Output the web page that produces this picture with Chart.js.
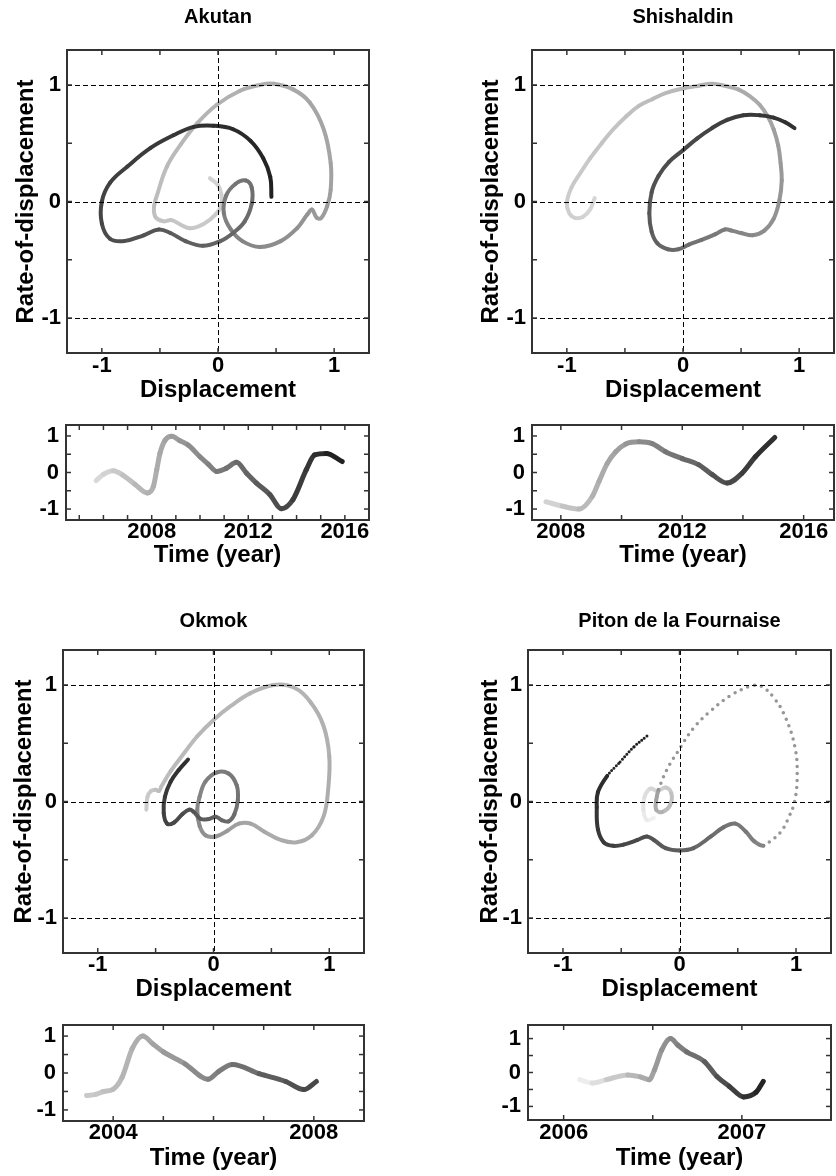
<!DOCTYPE html>
<html><head><meta charset="utf-8">
<script src="https://cdn.jsdelivr.net/npm/chart.js@4.4.1/dist/chart.umd.min.js"></script>
<style>
html,body{margin:0;padding:0;background:#fff}
body{position:relative;width:836px;height:1176px;overflow:hidden}
canvas{position:absolute;display:block}
</style></head><body>
<canvas id="akPhase"></canvas><canvas id="shPhase"></canvas>
<canvas id="akSeries"></canvas><canvas id="shSeries"></canvas>
<canvas id="okPhase"></canvas><canvas id="ptPhase"></canvas>
<canvas id="okSeries"></canvas><canvas id="ptSeries"></canvas>
<script>
// ---------------- DATA ----------------
// Phase portraits: normalized displacement (x) vs rate-of-displacement (y), in time order
const akutanDisp = [-0.07,0.00,0.03,0.03,-0.02,-0.12,-0.24,-0.32,-0.40,-0.47,-0.54,-0.55,-0.52,-0.44,-0.32,-0.18,-0.01,0.19,0.36,0.48,0.65,0.79,0.91,0.97,0.97,0.94,0.89,0.85,0.81,0.77,0.68,0.54,0.36,0.21,0.11,0.05,0.07,0.15,0.24,0.29,0.29,0.23,0.13,0.02,-0.13,-0.28,-0.41,-0.51,-0.64,-0.81,-0.93,-1.00,-1.00,-0.93,-0.78,-0.58,-0.38,-0.21,-0.04,0.13,0.28,0.39,0.45,0.46];
const akutanRate = [0.20,0.14,0.06,-0.03,-0.11,-0.19,-0.23,-0.20,-0.16,-0.17,-0.13,-0.04,0.07,0.30,0.49,0.67,0.83,0.95,1.00,1.01,0.96,0.85,0.62,0.33,0.10,-0.04,-0.14,-0.14,-0.07,-0.11,-0.23,-0.34,-0.39,-0.34,-0.24,-0.10,0.05,0.15,0.18,0.12,-0.02,-0.17,-0.27,-0.34,-0.38,-0.34,-0.27,-0.24,-0.29,-0.34,-0.32,-0.19,0.00,0.16,0.30,0.46,0.57,0.64,0.65,0.62,0.52,0.37,0.21,0.04];

const shishaldinDisp = [-0.76,-0.80,-0.86,-0.93,-0.98,-1.00,-0.96,-0.88,-0.80,-0.70,-0.60,-0.49,-0.38,-0.26,-0.15,0.00,0.12,0.25,0.37,0.48,0.58,0.66,0.73,0.78,0.82,0.84,0.85,0.83,0.78,0.70,0.60,0.50,0.42,0.36,0.28,0.16,0.05,-0.04,-0.13,-0.22,-0.27,-0.29,-0.27,-0.21,-0.12,0.00,0.12,0.25,0.38,0.52,0.66,0.78,0.88,0.96];
const shishaldinRate = [0.03,-0.07,-0.13,-0.14,-0.10,-0.01,0.12,0.25,0.37,0.50,0.62,0.73,0.82,0.88,0.93,0.97,0.99,1.01,0.99,0.96,0.90,0.83,0.73,0.62,0.48,0.33,0.18,0.01,-0.15,-0.25,-0.29,-0.27,-0.25,-0.24,-0.28,-0.33,-0.37,-0.41,-0.41,-0.36,-0.26,-0.10,0.08,0.22,0.34,0.44,0.54,0.63,0.70,0.74,0.74,0.72,0.68,0.63];

const okmokDisp = [-0.58,-0.57,-0.54,-0.50,-0.47,-0.45,-0.37,-0.25,-0.14,0.00,0.15,0.32,0.52,0.69,0.84,0.95,1.00,0.99,0.95,0.85,0.72,0.58,0.44,0.32,0.22,0.12,0.02,-0.07,-0.12,-0.14,-0.12,-0.07,0.03,0.13,0.20,0.21,0.18,0.13,0.07,0.02,-0.04,-0.11,-0.17,-0.21,-0.27,-0.34,-0.40,-0.43,-0.42,-0.37,-0.30,-0.22];
const okmokRate = [-0.07,0.04,0.09,0.10,0.09,0.13,0.26,0.42,0.56,0.70,0.82,0.93,1.00,0.98,0.85,0.65,0.39,0.10,-0.13,-0.29,-0.35,-0.33,-0.26,-0.19,-0.19,-0.25,-0.30,-0.29,-0.21,-0.07,0.04,0.17,0.25,0.24,0.14,0.01,-0.11,-0.17,-0.16,-0.13,-0.15,-0.15,-0.09,-0.07,-0.11,-0.18,-0.19,-0.10,0.04,0.17,0.27,0.36];

const pitonDisp = [-0.22,-0.28,-0.31,-0.30,-0.25,-0.19,-0.12,-0.07,-0.08,-0.15,-0.20,-0.20,-0.18,-0.11,-0.02,0.12,0.27,0.44,0.61,0.70,0.81,0.91,0.99,1.01,0.99,0.94,0.87,0.78,0.72,0.64,0.57,0.48,0.38,0.27,0.12,0.00,-0.12,-0.22,-0.28,-0.36,-0.48,-0.57,-0.65,-0.70,-0.71,-0.70,-0.62,-0.51,-0.39,-0.27];
const pitonRate = [-0.14,-0.16,-0.07,0.04,0.11,0.09,0.12,0.07,-0.03,-0.09,-0.07,0.01,0.10,0.27,0.42,0.63,0.78,0.91,0.99,0.99,0.89,0.72,0.47,0.24,0.01,-0.13,-0.26,-0.34,-0.38,-0.34,-0.26,-0.19,-0.22,-0.30,-0.40,-0.42,-0.40,-0.33,-0.30,-0.33,-0.37,-0.38,-0.35,-0.24,-0.05,0.08,0.22,0.34,0.47,0.57];

// Time series: year vs normalized displacement
const akutanYears = [2005.70,2006.00,2006.41,2006.80,2007.30,2007.82,2008.07,2008.21,2008.34,2008.55,2008.83,2009.17,2009.51,2010.00,2010.35,2010.69,2011.10,2011.51,2011.93,2012.34,2012.89,2013.37,2013.85,2014.40,2014.75,2015.23,2015.89];
const akutanSeries = [-0.22,-0.05,0.05,-0.07,-0.32,-0.56,-0.38,0.08,0.52,0.88,0.99,0.87,0.75,0.43,0.22,0.03,0.12,0.28,-0.02,-0.29,-0.60,-0.99,-0.74,0.07,0.48,0.52,0.30];

const shishaldinYears = [2007.51,2008.05,2008.60,2009.04,2009.26,2009.53,2009.81,2010.14,2010.58,2011.01,2011.45,2012.00,2012.55,2012.99,2013.48,2013.97,2014.41,2015.05];
const shishaldinSeries = [-0.80,-0.92,-1.00,-0.65,-0.24,0.25,0.57,0.78,0.84,0.79,0.57,0.38,0.21,-0.06,-0.29,-0.02,0.43,0.96];

const okmokYears = [2003.47,2003.65,2003.81,2004.00,2004.18,2004.38,2004.59,2004.80,2005.00,2005.43,2005.89,2006.10,2006.38,2006.91,2007.44,2007.80,2008.05];
const okmokSeries = [-0.61,-0.58,-0.50,-0.44,-0.11,0.66,1.00,0.78,0.57,0.25,-0.17,0.04,0.23,-0.02,-0.23,-0.45,-0.23];

const pitonYears = [2006.09,2006.16,2006.24,2006.36,2006.43,2006.48,2006.51,2006.55,2006.60,2006.64,2006.69,2006.79,2006.86,2006.93,2007.01,2007.08,2007.12];
const pitonSeries = [-0.21,-0.31,-0.21,-0.07,-0.13,-0.21,0.08,0.66,1.00,0.81,0.61,0.32,-0.12,-0.41,-0.72,-0.58,-0.26];

// Tick labels
const phaseTickLabels = [-1, 0, 1];
const seriesValueLabels = [-1, 0, 1];
const akutanYearLabels = [2008, 2012, 2016];
const shishaldinYearLabels = [2008, 2012, 2016];
const okmokYearLabels = [2004, 2008];
const pitonYearLabels = [2006, 2007];

// ---------------- STYLE / LAYOUT ----------------
const FONT_FAMILY = "'Liberation Sans', Arial, Helvetica, sans-serif";
const TITLE_SIZE = 20, AXIS_TITLE_SIZE = 24, TICK_SIZE = 22;

function grayFromStops(stops, f) {
  f = Math.max(0, Math.min(1, f));
  for (let i = 1; i < stops.length; i++) {
    if (f <= stops[i][0]) {
      const [f0, g0] = stops[i - 1], [f1, g1] = stops[i];
      const t = f1 === f0 ? 0 : (f - f0) / (f1 - f0);
      return g0 + (g1 - g0) * t;
    }
  }
  return stops[stops.length - 1][1];
}
function grayCss(g) { const q = Math.round(g / 3) * 3; return 'rgb(' + q + ',' + q + ',' + q + ')'; }

const framePlugin = {
  id: 'frame',
  afterDatasetsDraw(chart, args, opts) {
    const ctx = chart.ctx, a = chart.chartArea;
    const xs = chart.scales.x, ys = chart.scales.y;
    const seg = (x1, y1, x2, y2) => { ctx.beginPath(); ctx.moveTo(x1, y1); ctx.lineTo(x2, y2); ctx.stroke(); };
    ctx.save();
    ctx.strokeStyle = '#000'; ctx.lineWidth = 1; ctx.setLineDash([5, 3]);
    (opts.dashX || []).forEach(v => { const p = Math.round(xs.getPixelForValue(v)) + 0.5; seg(p, a.top, p, a.bottom); });
    (opts.dashY || []).forEach(v => { const p = Math.round(ys.getPixelForValue(v)) + 0.5; seg(a.left, p, a.right, p); });
    ctx.setLineDash([]);
    ctx.strokeStyle = '#333'; ctx.lineWidth = 1.5;
    const len = 5;
    (opts.tickX || []).forEach(v => { const p = xs.getPixelForValue(v); if (p <= a.left + 1 || p >= a.right - 1) return; seg(p, a.top, p, a.top + len); seg(p, a.bottom, p, a.bottom - len); });
    (opts.tickY || []).forEach(v => { const p = ys.getPixelForValue(v); if (p <= a.top + 1 || p >= a.bottom - 1) return; seg(a.left, p, a.left + len, p); seg(a.right, p, a.right - len, p); });
    ctx.lineWidth = 2;
    ctx.strokeRect(a.left, a.top, a.right - a.left, a.bottom - a.top);
    ctx.restore();
  }
};

function range(a, b, step) { const out = []; for (let v = a; v <= b + 1e-9; v += step) out.push(Math.round(v * 1000) / 1000); return out; }

function buildPanel(id, box, axes, dataset, frame) {
  const cv = document.getElementById(id);
  cv.width = box.cw; cv.height = box.ch;
  cv.style.left = box.cx + 'px'; cv.style.top = box.cy + 'px';
  cv.style.width = box.cw + 'px'; cv.style.height = box.ch + 'px';
  const L = box.L - box.cx, R = box.R - box.cx, T = box.T - box.cy, B = box.B - box.cy;
  const font = s => ({ family: FONT_FAMILY, weight: 'bold', size: s, lineHeight: 1 });
  return new Chart(cv, {
    type: 'line',
    data: { datasets: [dataset] },
    plugins: [framePlugin],
    options: {
      responsive: false, animation: false, devicePixelRatio: 1, events: [],
      layout: { padding: { left: 0, top: 0, bottom: 0, right: box.cw - R } },
      plugins: { legend: { display: false }, tooltip: { enabled: false }, frame: frame },
      scales: {
        x: {
          type: 'linear', position: 'bottom', min: axes.xMin, max: axes.xMax,
          afterBuildTicks: s => { s.ticks = axes.xLabels.map(v => ({ value: v })); },
          afterFit: s => { s.height = box.ch - B; s.paddingLeft = 0; s.paddingRight = 0; },
          grid: { display: false, drawTicks: false }, border: { display: false },
          ticks: { autoSkip: false, maxRotation: 0, minRotation: 0, color: '#000', font: font(TICK_SIZE),
                   padding: box.xTickY - box.B - TICK_SIZE / 2, callback: v => String(v) },
          title: { display: true, text: axes.xTitle, color: '#000', font: font(AXIS_TITLE_SIZE),
                   padding: { top: 0, bottom: (box.cy + box.ch) - box.xTitleY - AXIS_TITLE_SIZE / 2 } }
        },
        y: {
          type: 'linear', position: 'left', min: axes.yMin, max: axes.yMax,
          afterBuildTicks: s => { s.ticks = axes.yLabels.map(v => ({ value: v })); },
          afterFit: s => { s.width = L; s.paddingTop = 0; s.paddingBottom = 0; },
          grid: { display: false, drawTicks: false }, border: { display: false },
          ticks: { autoSkip: false, color: '#000', font: font(TICK_SIZE), padding: box.yTickGap, callback: v => String(v) },
          title: { display: !!axes.yTitle, text: axes.yTitle || '', color: '#000', font: font(AXIS_TITLE_SIZE),
                   padding: { top: (box.yTitleX || 0) - box.cx - AXIS_TITLE_SIZE / 2, bottom: 0 } }
        },
        x2: {
          type: 'linear', axis: 'x', position: 'top', min: 0, max: 1,
          afterFit: s => { s.height = T; s.paddingLeft = 0; s.paddingRight = 0; },
          grid: { display: false, drawTicks: false }, border: { display: false },
          ticks: { display: false },
          title: { display: !!axes.title, text: axes.title || '', color: '#000', font: font(TITLE_SIZE),
                   padding: { top: (box.titleY || 0) - box.cy - TITLE_SIZE / 2, bottom: 0 } }
        }
      }
    }
  });
}

function phaseDataset(xs, ys, stops, special) {
  const n = xs.length;
  special = special || [];
  const find = i => special.find(r => i >= r.from && i < r.to);
  return {
    data: xs.map((x, i) => ({ x: x, y: ys[i] })),
    borderWidth: 4, pointRadius: 0, tension: 0.4, fill: false,
    borderCapStyle: 'round', borderJoinStyle: 'round',
    segment: {
      borderColor: c => {
        const s = find(c.p0DataIndex);
        if (s && s.gray !== undefined) return grayCss(s.gray);
        return grayCss(grayFromStops(stops, (c.p0DataIndex + 0.5) / (n - 1)));
      },
      borderDash: c => { const s = find(c.p0DataIndex); return s ? s.dash : undefined; },
      borderWidth: c => { const s = find(c.p0DataIndex); return s ? s.width : undefined; }
    }
  };
}
function seriesDataset(ts, vs, g0, g1) {
  const t0 = ts[0], t1 = ts[ts.length - 1];
  return {
    data: ts.map((t, i) => ({ x: t, y: vs[i] })),
    borderWidth: 5, pointRadius: 0, cubicInterpolationMode: 'monotone', fill: false,
    borderCapStyle: 'round', borderJoinStyle: 'round',
    segment: { borderColor: c => grayCss(g0 + (g1 - g0) * (((ts[c.p0DataIndex] + ts[c.p1DataIndex]) / 2 - t0) / (t1 - t0))) }
  };
}

const PHASE_TICKS = range(-1, 1, 0.5);
const phaseAxes = title => ({ title: title, xMin: -1.3, xMax: 1.3, yMin: -1.3, yMax: 1.3, xLabels: phaseTickLabels, yLabels: phaseTickLabels, xTitle: 'Displacement', yTitle: 'Rate-of-displacement' });
const phaseFrame = { dashX: [0], dashY: [-1, 0, 1], tickX: PHASE_TICKS, tickY: PHASE_TICKS };

buildPanel('akPhase', { cx: 0, cy: 0, cw: 418, ch: 405, L: 67, R: 369, T: 50, B: 353, titleY: 17, yTitleX: 26, xTickY: 366, xTitleY: 390, yTickGap: 6 },
  phaseAxes('Akutan'),
  phaseDataset(akutanDisp, akutanRate, [[0, 210], [0.17, 192], [0.31, 170], [0.47, 148], [0.56, 125], [0.69, 100], [0.81, 72], [1, 30]]),
  phaseFrame);
buildPanel('shPhase', { cx: 418, cy: 0, cw: 418, ch: 405, L: 532, R: 834, T: 50, B: 353, titleY: 17, yTitleX: 491, xTickY: 366, xTitleY: 390, yTickGap: 6 },
  phaseAxes('Shishaldin'),
  phaseDataset(shishaldinDisp, shishaldinRate, [[0, 215], [0.25, 188], [0.4, 168], [0.55, 142], [0.7, 108], [0.8, 82], [1, 45]]),
  phaseFrame);
buildPanel('okPhase', { cx: 0, cy: 600, cw: 418, ch: 405, L: 63, R: 364, T: 650, B: 953, titleY: 621, yTitleX: 24, xTickY: 965, xTitleY: 989, yTickGap: 6 },
  phaseAxes('Okmok'),
  phaseDataset(okmokDisp, okmokRate, [[0, 205], [0.1, 188], [0.45, 168], [0.55, 140], [0.7, 112], [0.85, 82], [1, 45]]),
  phaseFrame);
buildPanel('ptPhase', { cx: 418, cy: 600, cw: 418, ch: 405, L: 528, R: 831, T: 650, B: 953, titleY: 621, yTitleX: 490, xTickY: 965, xTitleY: 989, yTickGap: 6 },
  phaseAxes('Piton de la Fournaise'),
  phaseDataset(pitonDisp, pitonRate, [[0, 242], [0.1, 212], [0.24, 160], [0.56, 138], [0.72, 95], [0.9, 50], [1, 28]],
    [{ from: 12, to: 28, gray: 150, dash: [0, 7], width: 3.5 }, { from: 46, to: 60, dash: [0, 3.4], width: 3 }]),
  phaseFrame);

const seriesAxes = (labels, xMin, xMax, yLim) => ({ xMin: xMin, xMax: xMax, yMin: -yLim, yMax: yLim, xLabels: labels, yLabels: seriesValueLabels, xTitle: 'Time (year)' });
const seriesFrame = step => (min, max) => ({ tickX: range(min, max, step), tickY: range(-1, 1, 0.5) });

buildPanel('akSeries', { cx: 0, cy: 405, cw: 418, ch: 195, L: 66, R: 369, T: 425, B: 520, xTickY: 532, xTitleY: 555, yTickGap: 7 },
  seriesAxes(akutanYearLabels, 2004.45, 2017, 1.3),
  seriesDataset(akutanYears, akutanSeries, 218, 28),
  seriesFrame(1)(2005, 2017));
buildPanel('shSeries', { cx: 418, cy: 405, cw: 418, ch: 195, L: 532, R: 834, T: 425, B: 520, xTickY: 532, xTitleY: 555, yTickGap: 7 },
  seriesAxes(shishaldinYearLabels, 2007.05, 2017, 1.3),
  seriesDataset(shishaldinYears, shishaldinSeries, 215, 40),
  seriesFrame(2)(2008, 2016));
buildPanel('okSeries', { cx: 0, cy: 1005, cw: 418, ch: 171, L: 63, R: 364, T: 1025, B: 1121, xTickY: 1133, xTitleY: 1158, yTickGap: 7 },
  seriesAxes(okmokYearLabels, 2003, 2009, 1.3),
  seriesDataset(okmokYears, okmokSeries, 205, 68),
  seriesFrame(1)(2004, 2008));
buildPanel('ptSeries', { cx: 418, cy: 1005, cw: 418, ch: 171, L: 528, R: 831, T: 1025, B: 1120, xTickY: 1133, xTitleY: 1158, yTickGap: 7 },
  seriesAxes(pitonYearLabels, 2005.8, 2007.5, 1.4),
  seriesDataset(pitonYears, pitonSeries, 245, 32),
  seriesFrame(0.5)(2006, 2007.5));
</script>
</body></html>
